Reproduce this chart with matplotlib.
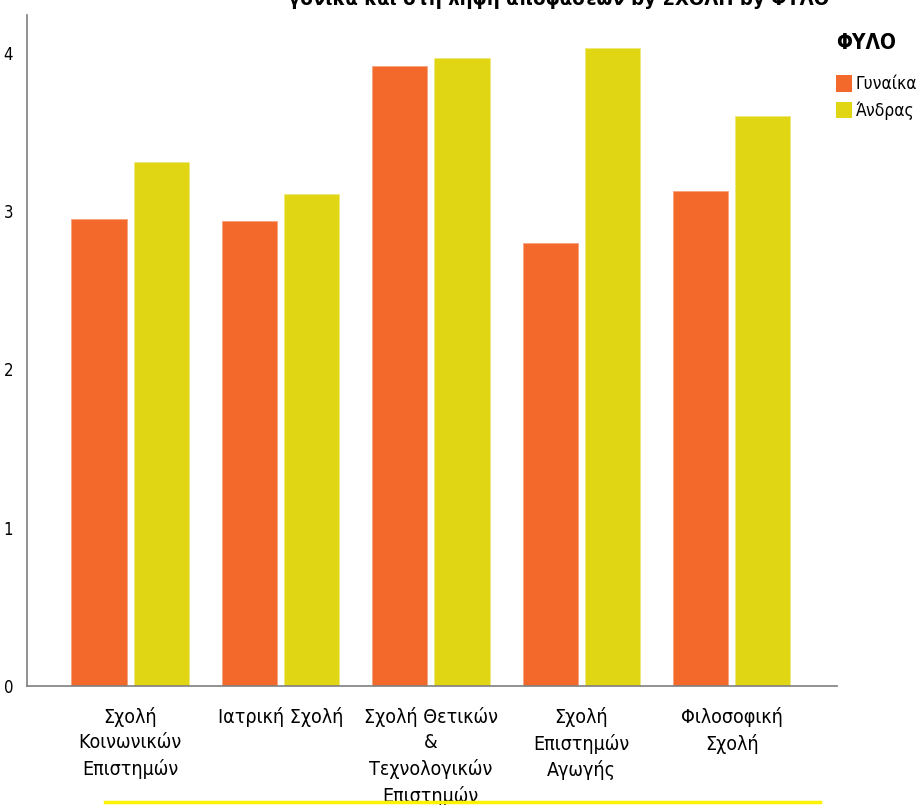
import matplotlib
matplotlib.use("Agg")
import matplotlib.pyplot as plt
import numpy as np
from matplotlib.lines import Line2D
from matplotlib.patches import Patch
from matplotlib.font_manager import FontProperties

schools = ["Σχολή\nΚοινωνικών\nΕπιστημών", "Ιατρική Σχολή",
           "Σχολή Θετικών\n&\nΤεχνολογικών\nΕπιστημών",
           "Σχολή\nΕπιστημών\nΑγωγής", "Φιλοσοφική\nΣχολή"]
women = [2.95, 2.94, 3.92, 2.80, 3.13]
men = [3.31, 3.11, 3.97, 4.03, 3.60]
yticks = [0, 1, 2, 3, 4]
series_names = ["Γυναίκα", "Άνδρας"]
legend_title = "ΦΥΛΟ"
title = "γονικά και στη λήψη αποφάσεων by ΣΧΟΛΗ by ΦΥΛΟ"

c_w = "#F2692B"
c_m = "#E1D613"

def fp(size, weight="normal"):
    return FontProperties(family="DejaVu Sans", stretch="condensed", size=size, weight=weight)

fig = plt.figure(figsize=(9.19, 8.05), dpi=100)
ax = fig.add_axes([27/919, 1-686/805, (837-27)/919, (686-15)/805])

x = np.arange(len(schools))
w = 0.367
off = 0.207
ax.bar(x - off, women, w, color=c_w, edgecolor="#F7A27E", linewidth=0.6)
ax.bar(x + off, men, w, color=c_m, edgecolor="#EEE77A", linewidth=0.6)

ax.set_xlim(-0.685, 4.70)
ax.set_ylim(0, 4.24)
ax.set_yticks(yticks)
ax.set_yticklabels([str(t) for t in yticks], fontproperties=fp(12))
ax.set_xticks(x)
ax.set_xticklabels(schools, fontproperties=fp(14), linespacing=1.42)
ax.tick_params(axis="both", length=0)
ax.tick_params(axis="y", pad=10)
ax.tick_params(axis="x", pad=15)
for s in ["top", "right"]:
    ax.spines[s].set_visible(False)
for s in ["left", "bottom"]:
    ax.spines[s].set_color("#7f7f7f")
    ax.spines[s].set_linewidth(1.2)

fig.text(0.608, 1 - 5/805, title, ha="center", va="baseline",
         fontproperties=fp(14.6, "bold"))

handles = [Patch(facecolor=c_w, edgecolor="none"), Patch(facecolor=c_m, edgecolor="none")]
leg = fig.legend(handles, series_names, title=legend_title, loc="upper left",
                 bbox_to_anchor=(836/919, 1 - 33/805), frameon=False,
                 prop=fp(12.5),
                 title_fontproperties=fp(15, "bold"),
                 handlelength=0.9, handleheight=1.1, handletextpad=0.25,
                 labelspacing=0.45, borderaxespad=0, borderpad=0)
leg._legend_box.align = "left"
leg._legend_box.sep = 16

fig.add_artist(Line2D([105/919, 820/919], [1 - 802/805, 1 - 802/805],
                      color="#FFF200", linewidth=2.5, transform=fig.transFigure))

fig.savefig("out.png", dpi=100)
